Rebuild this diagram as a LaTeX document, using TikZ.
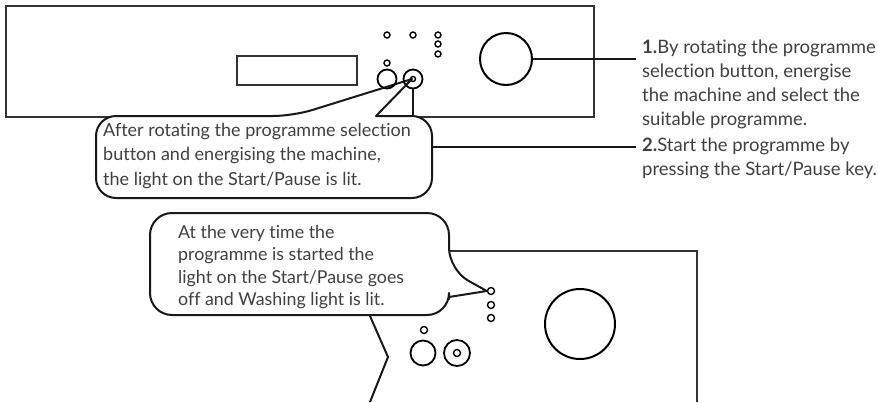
\documentclass[tikz,border=0pt]{standalone}
\usepackage{fontspec}
\setmainfont{Lato}[Ligatures={NoCommon,NoContextual}]
\usetikzlibrary{positioning}

\tikzset{
  panel/.style={draw=black!80, line width=2pt},
  bubble/.style={draw=black!90, line width=2pt, fill=white, line join=round},
  leader/.style={draw=black!90, line width=2pt},
  led/.style={circle, draw=black, line width=1.4pt, minimum size=6pt, inner sep=0pt},
  btn/.style={circle, draw=black, line width=1.8pt, minimum size=19pt, inner sep=0pt},
  knob/.style={circle, draw=black, line width=2pt, minimum size=52pt, inner sep=0pt},
  note/.style={align=left, inner sep=0pt, anchor=north west, text=black!75,
    font=\fontsize{18}{24.5}\selectfont},
}

\begin{document}
\begin{tikzpicture}[x=1pt,y=-1pt]
\useasboundingbox (0,0) rectangle (878,402);

% upper panel
\draw[panel] (5.5,5.5) rectangle (594,116.5);
\draw[panel] (237,56) rectangle (357,85);

% bubble on the upper panel
\draw[bubble] (250,198) [rounded corners=20] -- (96,198) -- (96,116) -- (293,116)
  [sharp corners] -- (412,79) -- (376,116) -- (378,116)
  [rounded corners=20] -- (432,116) -- (432,198) -- cycle;
\node[note] (noteA) at (103,123)
  {After rotating the programme selection\\button and energising the machine,\\the light on the Start/Pause is lit.};

\node[knob] (knobA) at (506,59) {};
\node[btn] (auxA) at (387,79) {};
\node[btn] (startA) at (413,79) {};
\node[led, minimum size=5pt] (pinA) at (startA) {};
\foreach \x/\n in {387/a,413/b,438/c}
  \node[led] (ledA\n) at (\x,35) {};
\node[led] (ledAd) at (438,44) {};
\node[led] (ledAe) at (438,54) {};
\node[led] (ledAf) at (387,63) {};
\draw[leader] (startA.south) -- (startA.south |- 0,116);

% steps
\node[note, font=\fontsize{18.5}{24}\selectfont] (stepA) at (642,40)
  {\textbf{1.}By rotating the programme\\selection button, energise\\the machine and select the\\suitable programme.};
\node[note, font=\fontsize{18.5}{24}\selectfont] (stepB) at (642,138)
  {\textbf{2.}Start the programme by\\pressing the Start/Pause key.};
\coordinate (bubA) at (432,147);
\draw[leader, shorten >=6pt] (knobA.east) -- (knobA.east -| stepA.west);
\draw[leader, shorten >=6pt] (bubA) -- (bubA -| stepB.west);

% lower panel
\draw[panel] (449,251) -- (697,251) -- (697,402);
\draw[leader] (370,316) -- (388,357) -- (370,402);

\node[led, minimum size=7pt] (ledBa) at (491,291) {};
\node[led, minimum size=7pt] (ledBb) at (491,305) {};
\node[led, minimum size=7pt] (ledBc) at (491,318) {};
\node[led, minimum size=7pt] (ledBd) at (424,330) {};
\node[btn, minimum size=25pt] (auxB) at (423,353) {};
\node[btn, minimum size=26pt] (startB) at (457,353) {};
\node[led, minimum size=7pt] (pinB) at (startB) {};
\node[knob, minimum size=70pt] (knobB) at (580,324) {};

% bubble on the lower panel
\draw[bubble] (300,315) [rounded corners=22] -- (150,315) -- (150,213) -- (449,213) -- (449,270)
  [sharp corners] -- (ledBa.west) -- (449,297) -- (449,299)
  [rounded corners=22] -- (449,315) -- cycle;
\node[note, font=\fontsize{17.8}{22.5}\selectfont] (noteB) at (178,225)
  {At the very time the\\programme is started the\\light on the Start/Pause goes\\off and Washing light is lit.};
\end{tikzpicture}
\end{document}
